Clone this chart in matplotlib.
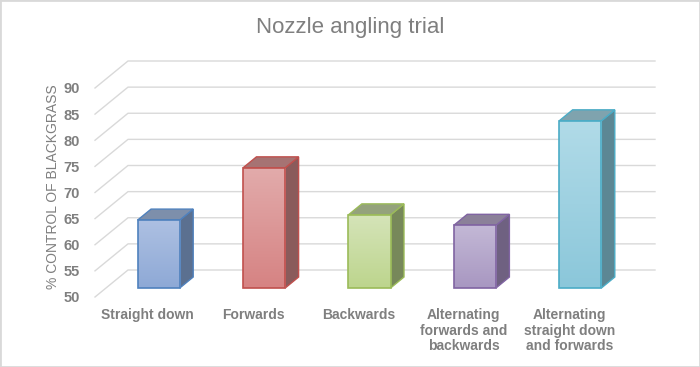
import matplotlib.pyplot as plt
import numpy as np
from matplotlib.patches import Polygon, Rectangle
from matplotlib.colors import LinearSegmentedColormap

# Datos
categorias = ['Straight down', 'Forwards', 'Backwards',
              'Alternating\nforwards and\nbackwards',
              'Alternating\nstraight down\nand forwards']
valores = [63, 73, 64, 62, 82]
ticks_y = [50, 55, 60, 65, 70, 75, 80, 85, 90]

# colores: (frente arriba, frente abajo, borde, lado, tapa)
colores = [
    ('#adc0e2', '#8ea9d6', '#4f81bd', '#5b7090', '#7d8fab'),
    ('#e2abab', '#d68383', '#c0504d', '#8a5b5b', '#a67373'),
    ('#d5e4b9', '#bdd58d', '#9bbb59', '#77885a', '#94a27c'),
    ('#c3b8d6', '#a897c1', '#8064a2', '#6f6181', '#8b8099'),
    ('#b1dbe8', '#8bc7da', '#4bacc6', '#5c8794', '#7fa3ae'),
]

gris = '#7f7f7f'
plt.rcParams['font.family'] = ['Liberation Sans', 'DejaVu Sans']

fig = plt.figure(figsize=(7, 3.67), dpi=100)
ax = fig.add_axes([95 / 700, (367 - 297) / 367, 527 / 700, (297 - 88) / 367])
ax.set_xlim(-0.5, 4.5)
ax.set_ylim(50, 90)

# desplazamiento en profundidad (pared del fondo)
ddx = 33 / 105.4
ddy = 27 / 5.225
x0, x1 = -0.5, 4.5

# cuadricula
for v in ticks_y:
    ax.plot([x0, x0 + ddx, x1 + ddx], [v, v + ddy, v + ddy],
            color='#d9d9d9', lw=1.0, clip_on=False, zorder=1)

# barras en pseudo 3D
ancho = 0.4
f0, f1 = 1 / 3, 0.74
grad = np.linspace(0, 1, 100).reshape(-1, 1)
for i, v in enumerate(valores):
    c_top, c_bot, borde, lado, tapa = colores[i]
    xl = i - ancho / 2 + f0 * ddx
    xr = xl + ancho
    yb = 50 + f0 * ddy
    yt = v + f0 * ddy
    sx = (f1 - f0) * ddx
    sy = (f1 - f0) * ddy

    # lado derecho
    ax.add_patch(Polygon([[xr, yb], [xr + sx, yb + sy], [xr + sx, yt + sy], [xr, yt]],
                         closed=True, facecolor=lado, edgecolor=borde, lw=1,
                         clip_on=False, zorder=3))
    # tapa
    ax.add_patch(Polygon([[xl, yt], [xr, yt], [xr + sx, yt + sy], [xl + sx, yt + sy]],
                         closed=True, facecolor=tapa, edgecolor=borde, lw=1,
                         clip_on=False, zorder=3))
    # frente con degradado (claro arriba, mas oscuro abajo)
    rect = Rectangle((xl, yb), ancho, yt - yb, facecolor='none', edgecolor=borde,
                     lw=1.2, clip_on=False, zorder=5)
    ax.add_patch(rect)
    cmap = LinearSegmentedColormap.from_list('g%d' % i, [c_top, c_bot])
    im = ax.imshow(grad, cmap=cmap, extent=[xl, xr, yb, yt], aspect='auto',
                   zorder=4, origin='upper')
    im.set_clip_path(rect)

ax.set_xlim(-0.5, 4.5)
ax.set_ylim(50, 90)

for s in ax.spines.values():
    s.set_visible(False)
ax.set_yticks(ticks_y)
ax.set_yticklabels([str(t) for t in ticks_y], fontsize=10.5, fontweight='bold', color=gris)
ax.set_xticks(range(len(categorias)))
ax.set_xticklabels(categorias, fontsize=10, fontweight='bold', color=gris,
                   linespacing=1.15)
ax.tick_params(axis='both', length=0)
ax.tick_params(axis='y', pad=11)
ax.tick_params(axis='x', pad=8)
ax.set_ylabel('% CONTROL OF BLACKGRASS', fontsize=10, color=gris)
ax.yaxis.set_label_coords(-35 / 527, (297 - 187) / 209)
ax.patch.set_visible(False)

fig.text(0.5, 1 - 27 / 367, 'Nozzle angling trial', ha='center', va='center',
         fontsize=16, color=gris)

# marco exterior
fig.patches.append(Rectangle((0, 0), 1, 1, transform=fig.transFigure, fill=False,
                             edgecolor='#d9d9d9', lw=2))

fig.savefig('out.png', dpi=100)
